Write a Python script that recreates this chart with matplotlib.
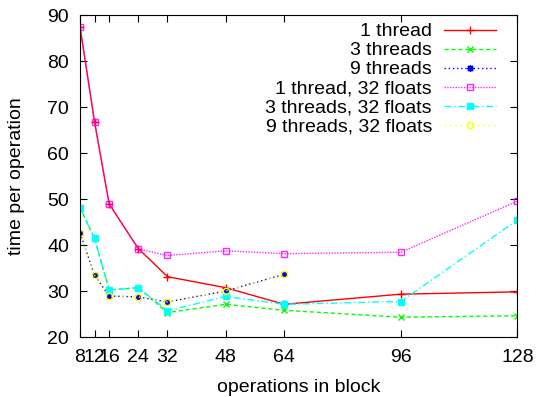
import numpy as np
import matplotlib.pyplot as plt

plt.rcParams['font.family'] = ['Liberation Sans', 'DejaVu Sans']

# block sizes
ops = [8, 12, 16, 24, 32, 48, 64, 96, 128]
ops9 = [8, 12, 16, 24, 32, 48, 64]

t1 = [87.5, 66.8, 49.0, 39.3, 33.2, 30.8, 27.2, 29.4, 29.9]
t3 = [48.2, 41.5, 30.3, 30.8, 25.4, 27.2, 25.9, 24.4, 24.7]
t9 = [42.7, 33.5, 29.0, 28.8, 27.7, 30.1, 33.7]
t1_32 = [87.5, 66.7, 48.9, 39.2, 37.8, 38.8, 38.2, 38.5, 49.6]
t3_32 = [48.2, 41.5, 30.3, 30.8, 25.8, 28.9, 27.2, 27.8, 45.5]
t9_32 = [42.7, 33.5, 29.0, 28.8, 27.7, 30.1, 33.7]

labels = ['1 thread', '3 threads', '9 threads',
          '1 thread, 32 floats', '3 threads, 32 floats', '9 threads, 32 floats']

fig = plt.figure(figsize=(5.39, 3.97), dpi=100)
ax = fig.add_axes([0.1484, 0.150, 0.8116, 0.812])

ax.plot(ops, t1, color='red', ls='-', lw=1, marker='+', ms=5.5, label=labels[0])
ax.plot(ops, t3, color='#00ff00', ls=(0, (3, 2)), lw=1, marker='x', ms=4.5, label=labels[1])
ax.plot(ops9, t9, color='blue', ls=(0, (1, 2)), lw=1, marker=(8, 2, 0), ms=5, label=labels[2])
ax.plot(ops, t1_32, color='#ff00ff', ls=(0, (1, 1)), lw=1, alpha=0.85, marker='s', ms=4.5,
        mfc='none', mew=1, label=labels[3])
ax.plot(ops, t3_32, color='#00ffff', ls=(0, (5, 2, 1, 2)), lw=1, marker='s', ms=4.5, label=labels[4])
ax.plot(ops9, t9_32, color='#ffff00', ls=(0, (1, 3)), lw=1, marker='o', ms=4.5, mfc='none',
        mew=1, label=labels[5])

ax.set_xlim(8, 128)
ax.set_ylim(20, 90)
ax.set_xticks(ops)
ax.set_yticks(np.arange(20, 91, 10))
ax.tick_params(direction='in', top=True, right=True, labelsize=14, length=5, pad=8)
ax.set_xlabel('operations in block', fontsize=14, labelpad=9.5)
ax.set_ylabel('time per operation', fontsize=14, labelpad=16)

ax.legend(loc='upper right', frameon=False, markerfirst=False, fontsize=14,
          handlelength=2.7, labelspacing=0.07, borderaxespad=0.2, borderpad=0.2,
          handletextpad=0.6, bbox_to_anchor=(0.969, 1.0))

fig.savefig('out.png')
